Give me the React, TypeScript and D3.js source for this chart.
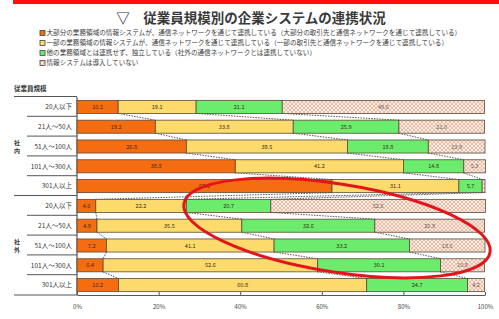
import React, {useEffect, useRef} from 'react'
import * as d3 from 'd3'

// 従業員規模別の企業システムの連携状況
const sizeLabels = ['20人以下', '21人～50人', '51人～100人', '101人～300人', '301人以上']
const groupLabels = ['社内', '社外']
const seriesLabels = [
	'大部分の業務領域の情報システムが、通信ネットワークを通じて連携している（大部分の取引先と通信ネットワークを通じて連携している）',
	'一部の業務領域の情報システムが、通信ネットワークを通じて連携している（一部の取引先と通信ネットワークを通じて連携している）',
	'他の業務領域とは連携せず、独立している（社外の通信ネットワークとは連携していない）',
	'情報システムは導入していない',
]
const internalMost = [10.1, 19.2, 26.8, 38.8, 62.5]
const internalSome = [19.1, 33.8, 39.5, 41.2, 31.1]
const internalAlone = [21.1, 25.9, 19.8, 14.8, 5.7]
const internalNone = [49.6, 21.0, 13.9, 5.3, 0.7]
const externalMost = [4.6, 4.9, 7.2, 6.4, 10.2]
const externalSome = [22.2, 35.5, 41.1, 52.6, 60.8]
const externalAlone = [20.7, 32.6, 33.2, 30.1, 24.7]
const externalNone = [52.6, 26.9, 18.5, 10.8, 4.2]
const xTicks = [0, 20, 40, 60, 80, 100]

const colors = ['#f46d10', '#fcda6c', '#6cec6c', 'url(#hatch)']
const font = '"Noto Sans CJK JP", "Noto Sans", sans-serif'

const W = 499
const H = 319
const left = 77
const right = 485
const top = 97
const bottom = 295

export default function App(){
	const axisRef = useRef<SVGGElement>(null)

	const rows = groupLabels.flatMap((g, gi) => sizeLabels.map((s, si) => {
		const vals = gi === 0
			? [internalMost[si], internalSome[si], internalAlone[si], internalNone[si]]
			: [externalMost[si], externalSome[si], externalAlone[si], externalNone[si]]
		return {key: g + s, label: s, group: gi, index: si, vals}
	}))

	const x = d3.scaleLinear().domain([0, 100]).range([left, right])
	const y = d3.scaleBand().domain(rows.map(r => r.key)).range([top, bottom]).paddingInner(0.34).paddingOuter(0.17)

	const stacked = rows.map(r => {
		let acc = 0
		return r.vals.map(v => { const s = {x0: acc, x1: acc + v, v}; acc += v; return s })
	})

	useEffect(() => {
		const axis = d3.axisBottom(x)
			.tickValues(xTicks)
			.tickFormat(d => d + '%')
			.tickSizeInner(-3)
			.tickSizeOuter(0)
			.tickPadding(10)
		const g = d3.select(axisRef.current)
		g.attr('transform', 'translate(0,' + bottom + ')').call(axis)
		g.select('.domain').attr('stroke', '#555').attr('stroke-width', 1.2)
		g.selectAll('.tick line').attr('stroke', '#555')
		g.selectAll('.tick text').attr('fill', '#444').style('font-size', '6px').style('font-family', font)
	}, [])

	const step = y.step()
	// series lines between consecutive bars
	const seriesLines: JSX.Element[] = []
	for (let i = 0; i < rows.length - 1; i++) {
		const yA = (y(rows[i].key) || 0) + y.bandwidth()
		const yB = y(rows[i + 1].key) || 0
		for (let k = 0; k < 3; k++) {
			seriesLines.push(
				<line key={'sl' + i + '-' + k} x1={x(stacked[i][k].x1)} y1={yA} x2={x(stacked[i + 1][k].x1)} y2={yB}
					stroke="#555" strokeWidth={1} strokeDasharray="1.5,1.2"/>
			)
		}
	}

	return (
		<svg width={W} height={H} style={{position: 'absolute', left: 0, top: 0, background: '#fff'}} fontFamily={font}>
			<defs>
				<pattern id="hatch" width="4" height="4" patternUnits="userSpaceOnUse">
					<rect width="4" height="4" fill="#fce9dd"/>
					<path d="M0,0 L4,4 M4,0 L0,4" stroke="#d9a48c" strokeWidth="0.6"/>
				</pattern>
			</defs>
			<rect x={13} y={0} width={W - 13} height={4} fill="#ff1010"/>
			<text x={251} y={23} textAnchor="middle" fontSize={13.5} fill="#3a3a3a" fontWeight="bold">▽　従業員規模別の企業システムの連携状況</text>

			{seriesLabels.map((s, i) => (
				<g key={'lg' + i} transform={'translate(40,' + (33 + i * 10) + ')'}>
					<rect x={0} y={-2.5} width={5} height={5} fill={colors[i]} stroke="#444" strokeWidth={0.8}/>
					<text x={6.5} y={2.4} fontSize={6.6} fill="#3a3a3a">{s}</text>
				</g>
			))}
			<text x={14} y={91} fontSize={6.5} fill="#333" fontWeight="bold">従業員規模</text>

			{/* separators in the label column */}
			{rows.map((r, i) => (
				<line key={'sep' + i} x1={r.index === 0 ? 14 : 27} x2={left} y1={(y(r.key) || 0) - step * 0.17 - 0.5} y2={(y(r.key) || 0) - step * 0.17 - 0.5}
					stroke="#555" strokeWidth={1}/>
			))}
			<line x1={14} x2={left} y1={bottom} y2={bottom} stroke="#555" strokeWidth={1.2}/>
			<line x1={left} x2={left} y1={top} y2={bottom} stroke="#555" strokeWidth={1.2}/>

			{groupLabels.map((g, gi) => {
				const first = y(rows[gi * 5].key) || 0
				const last = (y(rows[gi * 5 + 4].key) || 0) + y.bandwidth()
				const cy = (first + last) / 2
				return (
					<g key={'gl' + gi}>
						{g.split('').map((c, ci) => (
							<text key={ci} x={17} y={cy - 2 + ci * 8.5} fontSize={6} fill="#333" fontWeight="bold" textAnchor="middle">{c}</text>
						))}
					</g>
				)
			})}

			{rows.map(r => (
				<text key={'rl' + r.key} x={72} y={(y(r.key) || 0) + y.bandwidth() / 2 + 2.3} textAnchor="end" fontSize={6.5} fill="#333">{r.label}</text>
			))}

			{seriesLines}

			{rows.map((r, i) => (
				<g key={'bar' + r.key}>
					{stacked[i].map((s, k) => (
						<g key={k}>
							<rect x={x(s.x0)} y={y(r.key)} width={x(s.x1) - x(s.x0)} height={y.bandwidth()}
								fill={colors[k]} stroke="#5a4a3a" strokeWidth={0.8}/>
							{s.v >= 3 && (
								<text x={(x(s.x0) + x(s.x1)) / 2} y={(y(r.key) || 0) + y.bandwidth() / 2 + 2} textAnchor="middle"
									fontSize={5.6} fill={k === 3 ? '#6a5a50' : '#3a2a1a'}>{s.v.toFixed(1)}</text>
							)}
						</g>
					))}
				</g>
			))}

			<g ref={axisRef}/>

			<ellipse cx={337} cy={228} rx={155} ry={44} transform="rotate(9 337 228)" fill="none" stroke="#e3141c" strokeWidth={3}/>
		</svg>
	)
}
